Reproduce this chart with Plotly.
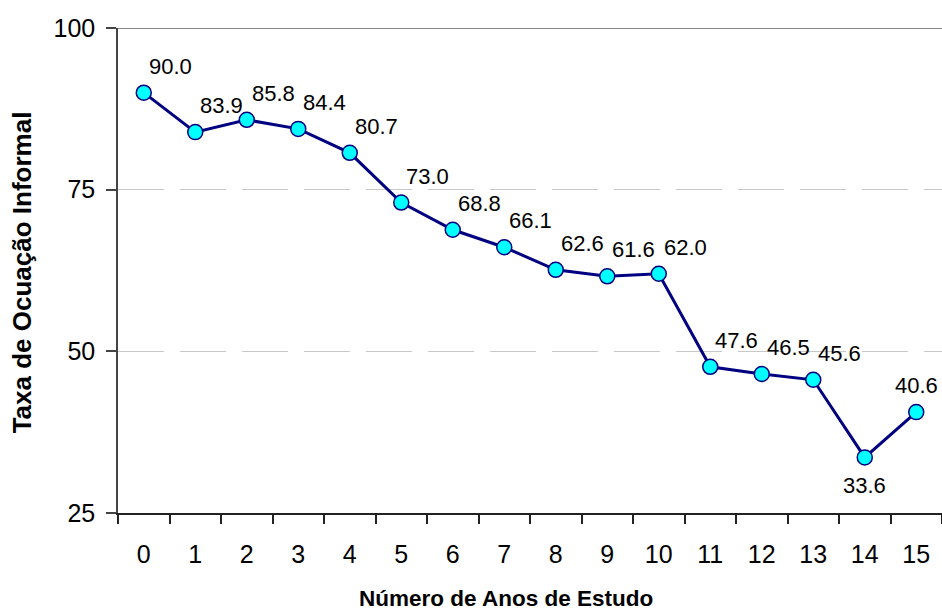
import plotly.graph_objects as go

# Years of schooling and informal employment rate (%)
anos = list(range(16))
taxa = [90.0, 83.9, 85.8, 84.4, 80.7, 73.0, 68.8, 66.1, 62.6, 61.6, 62.0,
        47.6, 46.5, 45.6, 33.6, 40.6]
y_ticks = [25, 50, 75, 100]

FONT = "Arial, Liberation Sans, sans-serif"
NAVY = "#000080"
LABEL_FONT = dict(family=FONT, size=22, color="black")

fig = go.Figure()
fig.add_trace(go.Scatter(
    x=anos, y=taxa, mode="lines+markers",
    line=dict(color=NAVY, width=3),
    marker=dict(size=15, color="#00FFFF", line=dict(color=NAVY, width=1.5)),
    hoverinfo="x+y", showlegend=False, cliponaxis=False,
))

# value labels: above-right of each point; the lowest point is labelled below,
# the last point's label is pulled back inside the plot area
annotations = []
for i, (xv, yv) in enumerate(zip(anos, taxa)):
    lbl = f"{yv:.1f}"
    if yv == min(taxa):
        annotations.append(dict(x=xv, y=yv, text=lbl, showarrow=False,
                                xanchor="center", yanchor="top", yshift=-14,
                                font=LABEL_FONT))
    elif i == len(taxa) - 1:
        annotations.append(dict(x=xv, y=yv, text=lbl, showarrow=False,
                                xanchor="right", yanchor="bottom", xshift=24, yshift=12,
                                font=LABEL_FONT))
    else:
        annotations.append(dict(x=xv, y=yv, text=lbl, showarrow=False,
                                xanchor="left", yanchor="bottom", xshift=3, yshift=12,
                                font=LABEL_FONT))

annotations.append(dict(text="<b>Número de Anos de Estudo</b>", xref="paper", yref="paper",
                        x=0.471, y=-0.176, xanchor="center", yanchor="middle", showarrow=False,
                        font=dict(family=FONT, size=22.5, color="black")))
annotations.append(dict(text="<b>Taxa de Ocuação Informal</b>", xref="paper", yref="paper",
                        x=-0.116, y=0.497, xanchor="center", yanchor="middle", showarrow=False,
                        textangle=-90, font=dict(family=FONT, size=26, color="black")))

fig.update_layout(
    width=942, height=610,
    margin=dict(l=118, r=0, t=28, b=97),
    paper_bgcolor="white", plot_bgcolor="white",
    font=dict(family=FONT, color="black"),
    annotations=annotations,
    shapes=[dict(type="line", xref="paper", yref="y", x0=0, x1=1, y0=100, y1=100,
                 line=dict(color="#888888", width=2), layer="below")],
    xaxis=dict(
        range=[-0.5, 15.5], tickvals=anos, ticktext=[str(a) for a in anos],
        ticks="", showgrid=False, zeroline=False,
        showline=True, linecolor="#222222", linewidth=1.5,
        tickfont=dict(family=FONT, size=25, color="black"),
        ticklabelstandoff=18,
        minor=dict(tick0=-0.5, dtick=1, ticks="outside", ticklen=9,
                   tickcolor="#222222", tickwidth=1.5, showgrid=False),
    ),
    yaxis=dict(
        range=[25, 100], tickvals=y_ticks, ticks="outside", ticklen=10,
        tickcolor="#444444", tickwidth=1.5,
        showline=True, linecolor="#444444", linewidth=1.5, zeroline=False,
        showgrid=True, gridcolor="#c8c8c8", gridwidth=1, griddash="46px,16px",
        tickfont=dict(family=FONT, size=25, color="black"),
        ticklabelstandoff=6,
    ),
)

fig.write_html("out.html")
